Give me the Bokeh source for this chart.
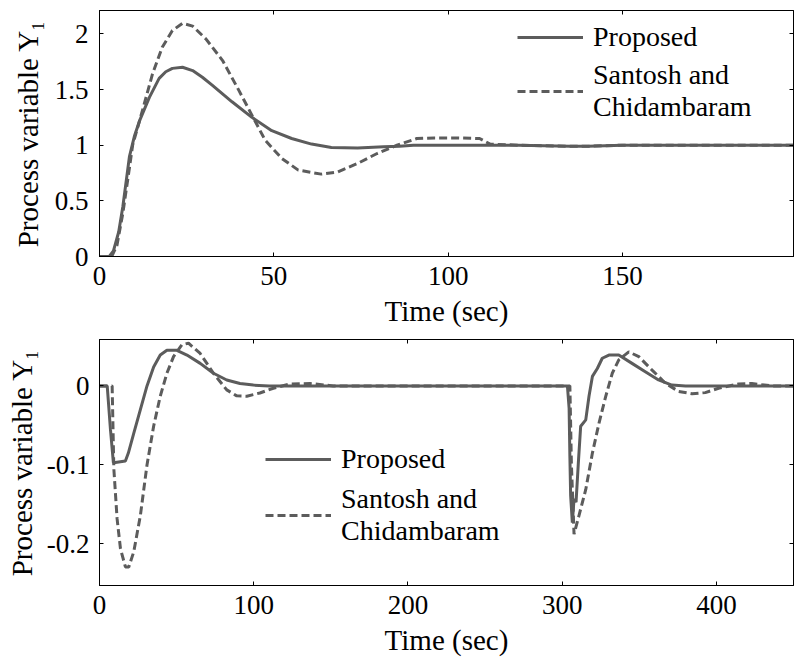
from bokeh.plotting import figure
from bokeh.models import Legend, LegendItem, LinearAxis, FixedTicker, Range1d
from bokeh.layouts import column
from bokeh.embed import file_html
from bokeh.resources import INLINE

# ---- data: set-point response (top) ----
t_top_prop = [0, 2.8, 4, 5.5, 6.7, 8.6, 10, 11.5, 14.3, 17.1, 19, 20.9, 23.8, 26.7, 29.5, 32.3, 38, 43.7,
              49.4, 55.1, 60.8, 66.5, 74, 81.5, 86, 90, 100, 120, 135, 140, 150, 170, 199]
y_top_prop = [0, 0, 0.05, 0.22, 0.45, 0.9, 1.08, 1.22, 1.43, 1.6, 1.66, 1.69, 1.70, 1.67, 1.61, 1.54, 1.39, 1.25,
              1.13, 1.06, 1.01, 0.98, 0.975, 0.985, 0.99, 1.0, 1.0, 1.0, 0.99, 0.99, 1.0, 1.0, 1.0]
t_top_sant = [0, 3.5, 5, 6.7, 8.6, 9.5, 12.3, 15.2, 18, 20.9, 23.8, 26.7, 30.5, 35.3, 40, 43.7, 47.5,
              52.3, 57, 63.6, 68.3, 74, 79.6, 85.3, 91, 96, 103, 109, 112, 120, 135, 140, 150, 170, 199]
y_top_sant = [0, 0, 0.1, 0.39, 0.8, 1.0, 1.31, 1.64, 1.88, 2.03, 2.095, 2.07, 1.955, 1.76, 1.49, 1.27, 1.045,
              0.88, 0.776, 0.74, 0.76, 0.836, 0.925, 1.0, 1.06, 1.065, 1.065, 1.06, 1.01, 1.0, 0.99, 0.99, 1.0, 1.0, 1.0]

# ---- data: disturbance response (bottom) ----
t_bot_prop = [0, 5, 7.1, 9, 10.3, 16.8, 18.7, 22.2, 26.5, 30.8, 35.1, 39.4, 43.7, 50.2, 56.7, 65.3, 73.9,
              82.5, 91.1, 99.8, 110, 303.4, 304.5, 305, 305.5, 306.6, 307.7, 309, 310.5, 312, 315.3, 317.4,
              319.6, 322.8, 326, 330.3, 336.7, 345.3, 353.9, 362.5, 371.1, 380, 450]
y_bot_prop = [0, 0, -0.055, -0.097, -0.097, -0.095, -0.085, -0.06, -0.03, 0, 0.024, 0.039, 0.045, 0.045,
              0.039, 0.0285, 0.016, 0.0075, 0.003, 0.001, 0, 0, -0.028, -0.089, -0.139, -0.173, -0.143,
              -0.147, -0.097, -0.051, -0.043, -0.013, 0.012, 0.022, 0.035, 0.039, 0.039, 0.0285, 0.018,
              0.0075, 0.001, 0, 0]
t_bot_sant = [0, 8.2, 9.3, 11.4, 13.6, 16.8, 19, 22.2, 26.5, 30.8, 35.1, 39.4, 43.7, 48, 53.4, 57.7, 65.3,
              73.9, 82.5, 89, 95.5, 104, 112.7, 123.5, 136.5, 151.5, 305, 306, 307.7, 310.9, 315.3, 319.6,
              323.9, 328.2, 332.5, 336.7, 343.2, 349.7, 358.3, 366.9, 375.5, 384.2, 392.8, 401.4, 414.4,
              423, 436, 450]
y_bot_sant = [0, 0, -0.105, -0.168, -0.206, -0.229, -0.229, -0.21, -0.164, -0.1, -0.051, -0.013, 0.016,
              0.037, 0.052, 0.054, 0.041, 0.016, -0.005, -0.0126, -0.013, -0.009, -0.003, 0.0025, 0.003, 0,
              0, -0.1, -0.1875, -0.164, -0.131, -0.085, -0.047, -0.0135, 0.016, 0.033, 0.043, 0.037, 0.02,
              0.0035, -0.007, -0.01, -0.0085, -0.003, 0.0025, 0.003, 0, 0]

top_xticks = [0, 50, 100, 150]
top_yticks = [0, 0.5, 1, 1.5, 2]
top_ylabels = {0: "0", 0.5: "0.5", 1: "1", 1.5: "1.5", 2: "2"}
bot_xticks = [0, 100, 200, 300, 400]
bot_yticks = [-0.2, -0.1, 0]
bot_ylabels = {-0.2: "-0.2", -0.1: "-0.1", 0: "0"}

label_prop = "Proposed"
label_sant = "Santosh and\nChidambaram"
x_title = "Time (sec)"
y_title = "Process variable Y\u2081"

FONT = "Liberation Serif"
LINE_COLOR = "#5c5c5c"


def make_fig(xr, yr, xt, yt, ylab, border_left, ylab_standoff, tick_standoff):
    p = figure(width=795, height=329, output_backend="svg", toolbar_location=None,
               x_range=Range1d(*xr), y_range=Range1d(*yr),
               min_border_left=border_left, min_border_right=2, min_border_top=10, min_border_bottom=72)
    p.xgrid.visible = False
    p.ygrid.visible = False
    p.outline_line_color = "black"
    p.outline_line_width = 1
    p.background_fill_color = "white"
    p.border_fill_color = "white"
    for ax, ticks in ((p.xaxis[0], xt), (p.yaxis[0], yt)):
        ax.ticker = FixedTicker(ticks=ticks)
        ax.major_tick_in = 4
        ax.major_tick_out = 0
        ax.minor_tick_line_color = None
        ax.axis_line_color = "black"
        ax.major_tick_line_color = "black"
        ax.major_label_text_font = FONT
        ax.major_label_text_font_size = "27px"
        ax.major_label_text_color = "black"
        ax.axis_label_text_font = FONT
        ax.axis_label_text_font_size = "29px"
        ax.axis_label_text_font_style = "normal"
        ax.axis_label_text_color = "black"
    p.xaxis[0].axis_label = x_title
    p.xaxis[0].major_label_standoff = 10
    p.xaxis[0].axis_label_standoff = 7
    p.yaxis[0].axis_label = y_title
    p.yaxis[0].major_label_overrides = ylab
    p.yaxis[0].major_label_standoff = tick_standoff
    p.yaxis[0].axis_label_standoff = ylab_standoff
    # mirrored ticks on the top and right, without labels
    for ticks, side in ((xt, "above"), (yt, "right")):
        ax = LinearAxis(ticker=FixedTicker(ticks=ticks), major_tick_in=4, major_tick_out=0,
                        minor_tick_line_color=None, axis_line_color="black",
                        major_label_overrides={t: "" for t in ticks},
                        major_label_text_font_size="1px", major_label_standoff=0)
        p.add_layout(ax, side)
    return p


# ---- top figure ----
p1 = make_fig((0, 199), (0, 2.21), top_xticks, top_yticks, top_ylabels, 93, 8, 11)
s1 = p1.line(t_top_sant, y_top_sant, line_color=LINE_COLOR, line_width=3, line_dash="8 4")
r1 = p1.line(t_top_prop, y_top_prop, line_color=LINE_COLOR, line_width=3)
leg1 = Legend(items=[LegendItem(label=label_prop, renderers=[r1]),
                     LegendItem(label=label_sant, renderers=[s1])],
              location=(418, 133))
p1.add_layout(leg1)

# ---- bottom figure ----
p2 = make_fig((0, 450), (-0.2525, 0.0587), bot_xticks, bot_yticks, bot_ylabels, 99, 6, 10)
s2 = p2.line(t_bot_sant, y_bot_sant, line_color=LINE_COLOR, line_width=3, line_dash="8 4")
r2 = p2.line(t_bot_prop, y_bot_prop, line_color=LINE_COLOR, line_width=3)
leg2 = Legend(items=[LegendItem(label=label_prop, renderers=[r2]),
                     LegendItem(label=label_sant, renderers=[s2])],
              location=(166, 38))
p2.add_layout(leg2)

for lg, sp in ((leg1, 6), (leg2, 8)):
    lg.background_fill_alpha = 0
    lg.border_line_color = None
    lg.label_text_font = FONT
    lg.label_text_font_size = "28px"
    lg.label_text_color = "black"
    lg.glyph_width = 66
    lg.label_standoff = 10
    lg.padding = 0
    lg.margin = 0
    lg.spacing = sp

layout = column(p1, p2, spacing=0)
open("out.html", "w").write(file_html(layout, INLINE))
